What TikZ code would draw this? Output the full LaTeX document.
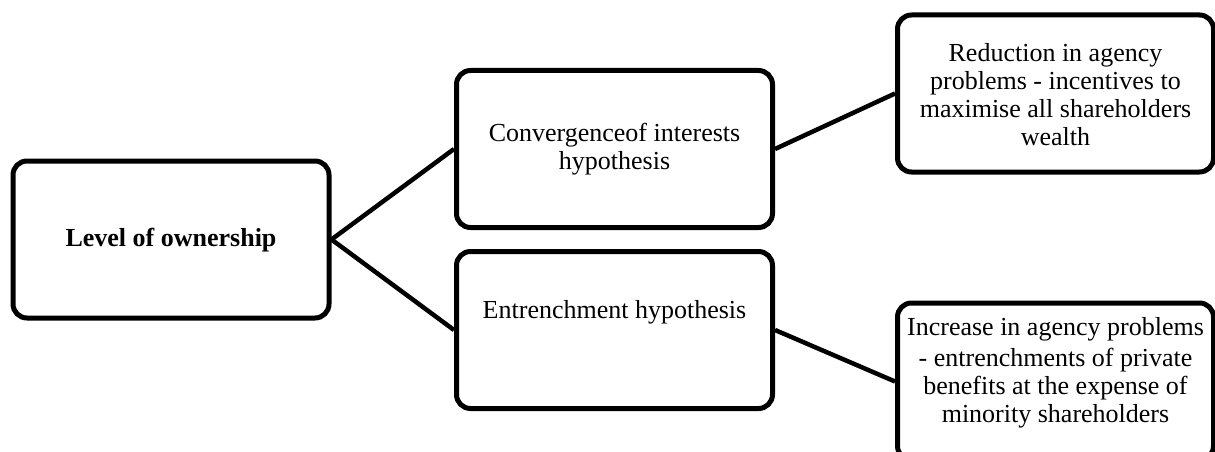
\documentclass[tikz,border=0pt]{standalone}
\usepackage{fontspec}
\setmainfont{Liberation Serif}
\begin{document}
\begin{tikzpicture}[x=1pt,y=-1pt,
  box/.style={draw=black, fill=white, line width=5pt, rounded corners=14pt,
    minimum width=316pt, minimum height=157pt, inner sep=0pt},
  txt/.style={align=center, font=\fontsize{26}{28}\selectfont, inner sep=0pt},
  link/.style={draw=black, line width=4.5pt}]
\useasboundingbox (0,0) rectangle (1215,452);

% boxes
\node[box] (L) at (171,239.5) {};
\node[box] (C) at (614.5,149) {};
\node[box] (E) at (614.5,330) {};
\node[box] (R) at (1055.5,93.5) {};
\node[box] (I) at (1055.5,381.5) {};

% connectors
\draw[link] (L.east) -- (C.west);
\draw[link] (L.east) -- (E.west);
\draw[link] (C.east) -- (R.west);
\draw[link] (E.east) -- (I.west);

% texts
\node[txt, font=\fontsize{26}{28}\selectfont\bfseries] (Lt) at (171,240) {Level of ownership};
\node[txt] (Ct) at (614.5,149) {Convergenceof interests\\hypothesis};
\node[txt] (Et) at (614.5,312) {Entrenchment hypothesis};
\node[txt] (Rt) at (1055.5,95) {Reduction in agency\\problems - incentives to\\maximise all shareholders\\wealth};
\node[txt] (It) at (1055.5,373) {Increase in agency problems\\[3pt]- entrenchments of private\\benefits at the expense of\\minority shareholders};
\end{tikzpicture}
\end{document}
